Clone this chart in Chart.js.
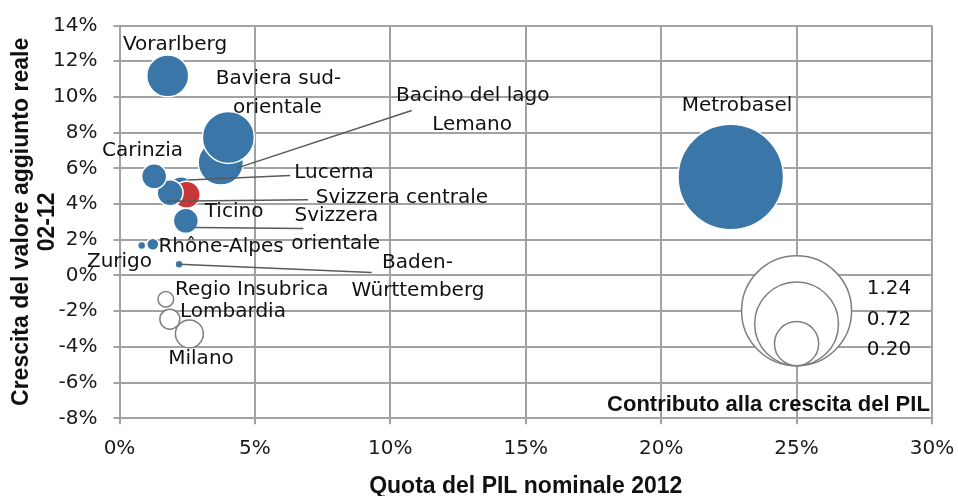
<!DOCTYPE html>
<html><head><meta charset="utf-8">
<script src="https://cdn.jsdelivr.net/npm/chart.js@4/dist/chart.umd.min.js"></script>
<style>html,body{margin:0;padding:0;background:#fff;}#wrap{width:958px;height:496px;}</style>
</head><body><div id="wrap"><canvas id="c" width="958" height="496"></canvas></div>
<script>
// ---- Dati ----
const regioni = ['Metrobasel','Bacino del lago Lemano','Baviera sud-orientale','Vorarlberg','Svizzera orientale','Lucerna','Svizzera centrale','Carinzia','Ticino','Rhône-Alpes','Zurigo','Baden-Württemberg','Regio Insubrica','Lombardia','Milano'];
const quotaPIL   = [22.57, 3.74, 4.02, 1.78, 2.27, 2.48, 1.87, 1.28, 2.45, 1.23, 0.82, 2.20, 1.71, 1.86, 2.58];
const crescitaVA = [5.51, 6.33, 7.73, 11.18, 4.85, 4.52, 4.63, 5.55, 3.06, 1.75, 1.68, 0.63, -1.33, -2.45, -3.27];
const contributo = [1.14, 0.21, 0.277, 0.18, 0.059, 0.075, 0.069, 0.064, 0.064, 0.015, 0.0066, 0.0066, -0.025, -0.041, -0.080];
const evidenziata = ['Lucerna'];
const xTicks = [0, 5, 10, 15, 20, 25, 30];
const yTicks = [-8, -6, -4, -2, 0, 2, 4, 6, 8, 10, 12, 14];
const legendaValori = [1.24, 0.72, 0.20];

// ---- Layout delle etichette (in unità dei dati) ----
const etichette = [
  {t:'Vorarlberg', x:2.05, y:13.03},
  {t:'Baviera sud-', x:5.87, y:11.11},
  {t:'orientale', x:5.83, y:9.50},
  {t:'Bacino del lago', x:13.04, y:10.12},
  {t:'Lemano', x:13.02, y:8.53},
  {t:'Carinzia', x:0.85, y:7.08},
  {t:'Lucerna', x:7.92, y:5.82},
  {t:'Svizzera centrale', x:10.43, y:4.46},
  {t:'Svizzera', x:8.01, y:3.40},
  {t:'orientale', x:7.98, y:1.84},
  {t:'Ticino', x:4.23, y:3.64},
  {t:'Rhône-Alpes', x:3.75, y:1.68},
  {t:'Zurigo', x:0.0, y:0.83},
  {t:'Baden-', x:11.0, y:0.78},
  {t:'Württemberg', x:11.02, y:-0.77},
  {t:'Regio Insubrica', x:4.88, y:-0.71},
  {t:'Lombardia', x:4.19, y:-1.93},
  {t:'Milano', x:3.01, y:-4.58},
  {t:'Metrobasel', x:22.80, y:9.56}
];
const connettori = [
  [4.33, 6.01, 10.79, 9.24],
  [2.54, 5.34, 6.30, 5.60],
  [1.74, 4.16, 6.96, 4.24],
  [2.79, 2.68, 6.79, 2.63],
  [2.20, 0.63, 9.31, 0.16]
];
const legendaPos = {x:25, fondo:-5.06, xTesto:28.41, yTesto:[-0.68, -2.39, -4.07]};
const titoloLegenda = {t:'Contributo alla crescita del PIL', x:29.92, y:-7.19};

const K = 49.4;
const raggio = v => K * Math.sqrt(Math.abs(v));
const BLU = '#3a76a8', ROSSO = '#c8383a', GRIGIO = '#7f7f7f', GRID = '#a2a2a2';
const fontTesto = '20px "DejaVu Sans"';
const dyTesto = 1.5;

const annotazioni = {
  id: 'annotazioni',
  afterDatasetsDraw(chart) {
    const {ctx, scales:{x, y}} = chart;
    ctx.save();
    ctx.strokeStyle = '#5a5a5a';
    ctx.lineWidth = 1.5;
    connettori.forEach(c => {
      ctx.beginPath();
      ctx.moveTo(x.getPixelForValue(c[0]), y.getPixelForValue(c[1]));
      ctx.lineTo(x.getPixelForValue(c[2]), y.getPixelForValue(c[3]));
      ctx.stroke();
    });
    const cx = x.getPixelForValue(legendaPos.x);
    const fondo = y.getPixelForValue(legendaPos.fondo);
    legendaValori.forEach(v => {
      const r = raggio(v);
      ctx.beginPath();
      ctx.arc(cx, fondo - r, r, 0, Math.PI * 2);
      ctx.fillStyle = '#fff';
      ctx.fill();
      ctx.strokeStyle = GRIGIO;
      ctx.lineWidth = 1.5;
      ctx.stroke();
    });
    ctx.fillStyle = '#111';
    ctx.font = fontTesto;
    ctx.textAlign = 'center';
    ctx.textBaseline = 'middle';
    etichette.forEach(e => ctx.fillText(e.t, x.getPixelForValue(e.x), y.getPixelForValue(e.y) + dyTesto));
    legendaValori.forEach((v, i) => ctx.fillText(v.toFixed(2), x.getPixelForValue(legendaPos.xTesto), y.getPixelForValue(legendaPos.yTesto[i]) + dyTesto));
    ctx.font = 'bold 22px "Liberation Sans"';
    ctx.textAlign = 'right';
    ctx.fillText(titoloLegenda.t, x.getPixelForValue(titoloLegenda.x), y.getPixelForValue(titoloLegenda.y) + 1);
    ctx.restore();
  }
};

new Chart(document.getElementById('c'), {
  type: 'bubble',
  data: {
    datasets: [{
      label: 'Regioni',
      data: regioni.map((n, i) => ({x: quotaPIL[i], y: crescitaVA[i]})),
      radius: ctx => raggio(contributo[ctx.dataIndex]),
      hoverRadius: 0,
      backgroundColor: ctx => contributo[ctx.dataIndex] < 0 ? '#fff' : (evidenziata.includes(regioni[ctx.dataIndex]) ? ROSSO : BLU),
      borderColor: ctx => contributo[ctx.dataIndex] < 0 ? GRIGIO : '#fff',
      borderWidth: 1.5,
      clip: false
    }]
  },
  options: {
    responsive: false,
    animation: false,
    events: [],
    layout: {autoPadding: false, padding: {top: 25.5, right: 26, left: 0, bottom: 0}},
    plugins: {legend: {display: false}, tooltip: {enabled: false}},
    scales: {
      x: {
        type: 'linear', min: 0, max: 30,
        afterBuildTicks: s => { s.ticks = xTicks.map(v => ({value: v})); },
        afterFit: s => { s.height = 77.7; s.paddingLeft = 0; s.paddingRight = 0; s.paddingTop = 0; s.paddingBottom = 0; },
        grid: {color: GRID, lineWidth: 2, tickLength: 6, drawTicks: true},
        border: {color: GRID, width: 2},
        ticks: {callback: v => v + '%', color: '#1a1a1a', font: {family: '"DejaVu Sans"', size: 20}, padding: 12, maxRotation: 0},
        title: {display: true, text: 'Quota del PIL nominale 2012', color: '#111', font: {family: '"Liberation Sans"', size: 23, weight: 'bold', lineHeight: 0.85}, padding: {top: 0, bottom: 0}}
      },
      y: {
        type: 'linear', min: -8, max: 14,
        afterBuildTicks: s => { s.ticks = yTicks.map(v => ({value: v})); },
        afterFit: s => { s.width = 119.5; s.paddingLeft = 0; s.paddingRight = 0; s.paddingTop = 0; s.paddingBottom = 0; },
        grid: {color: GRID, lineWidth: 2, tickLength: 6},
        border: {color: GRID, width: 2},
        ticks: {callback: v => v + '%', color: '#1a1a1a', font: {family: '"DejaVu Sans"', size: 20}, padding: 16},
        title: {display: true, text: ['Crescita del valore aggiunto reale', '02-12'], color: '#111', font: {family: '"Liberation Sans"', size: 23, weight: 'bold', lineHeight: 1.13}, padding: {top: 9, bottom: 0}}
      }
    }
  },
  plugins: [annotazioni]
});
</script></body></html>
